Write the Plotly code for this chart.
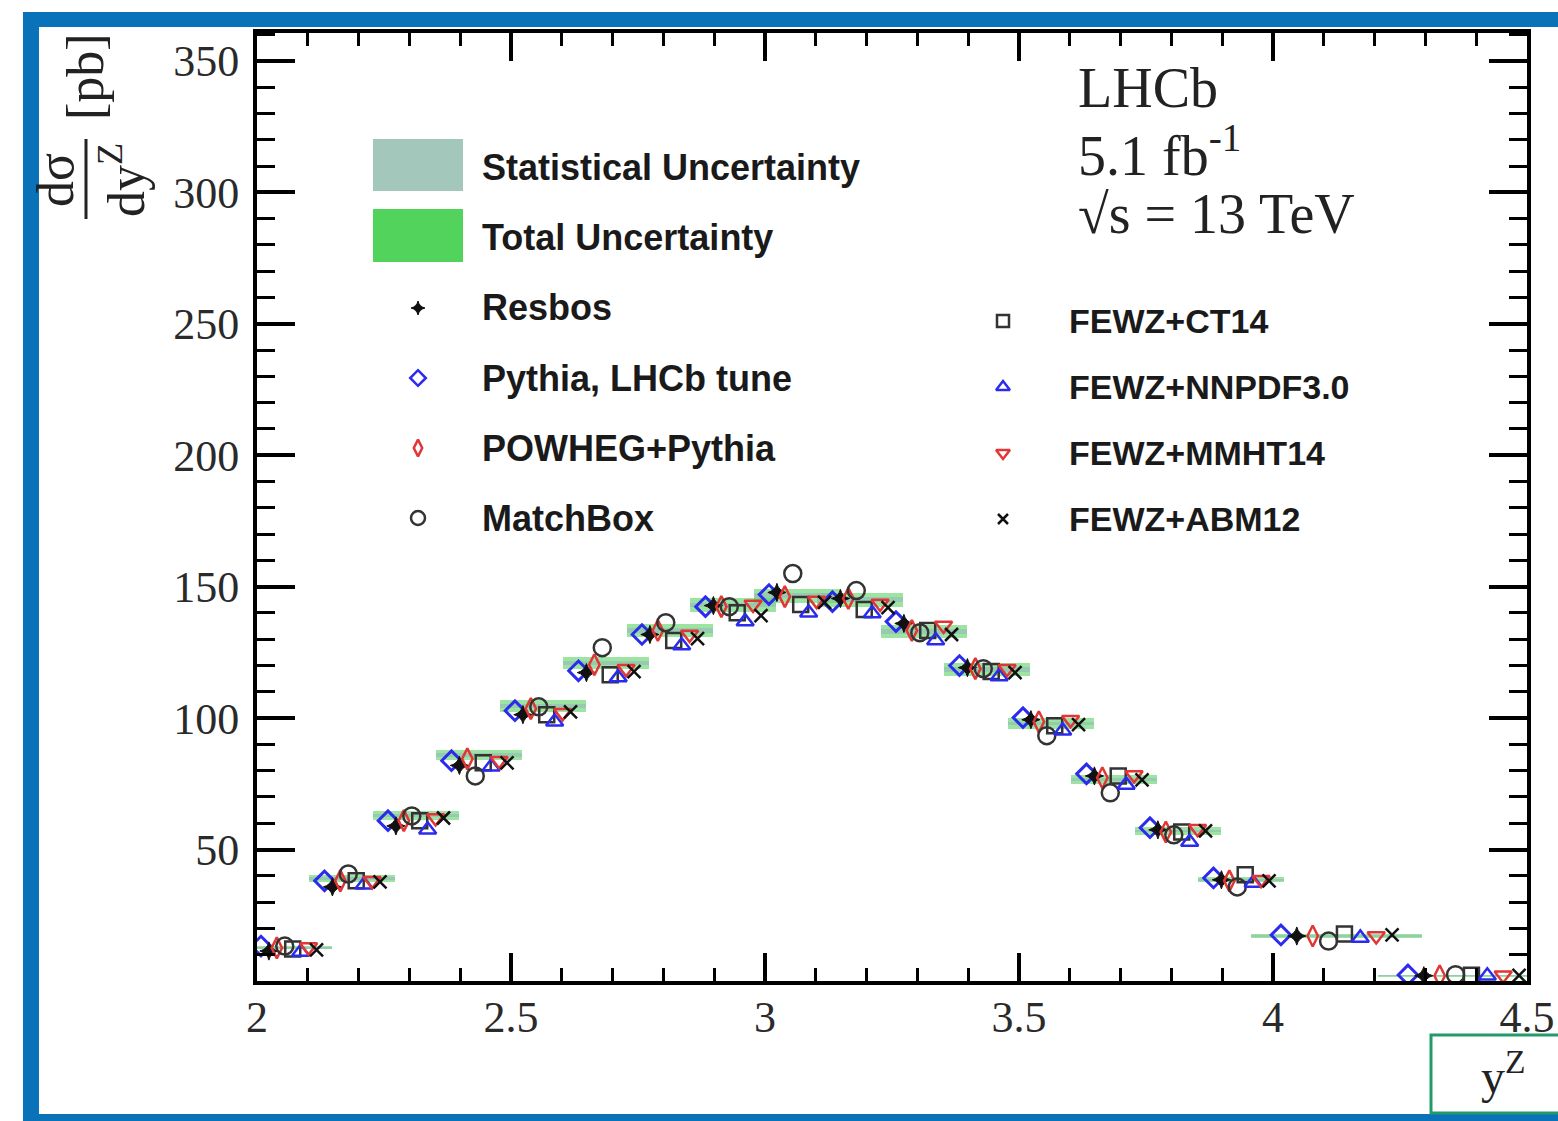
import plotly.graph_objects as go

# ------------------------------------------------------------------ data
bin_edges = [2.0, 2.125, 2.25, 2.375, 2.5, 2.625, 2.75, 2.875, 3.0, 3.125,
             3.25, 3.375, 3.5, 3.625, 3.75, 3.875, 4.0, 4.25, 4.5]
data_val = [12.6, 39.0, 63.0, 86.0, 104.5, 121.0, 133.3, 143.0, 146.5, 145.0,
            133.0, 118.5, 98.0, 76.5, 57.0, 38.5, 17.1, 2.0]
total_err = [0.6, 1.2, 1.6, 2.0, 2.2, 2.4, 2.5, 2.6, 2.6, 2.6,
             2.5, 2.3, 2.0, 1.7, 1.4, 1.0, 0.6, 0.3]
stat_err = [0.3, 0.5, 0.6, 0.7, 0.8, 0.8, 0.9, 0.9, 0.9, 0.9,
            0.9, 0.8, 0.7, 0.6, 0.5, 0.4, 0.3, 0.1]

pythia = [13.3, 38.1, 61.0, 83.8, 102.8, 118.0, 131.8, 142.4, 147.0, 144.3,
          136.7, 120.0, 100.2, 78.8, 58.3, 39.2, 17.5, 2.3]
resbos = [11.4, 35.8, 59.0, 82.0, 101.3, 117.3, 131.8, 142.8, 147.8, 145.5,
          136.0, 119.2, 99.4, 78.0, 57.5, 38.5, 17.1, 2.0]
powheg = [12.6, 38.1, 61.0, 84.5, 103.6, 120.3, 133.3, 142.4, 146.2, 145.5,
          133.3, 118.8, 98.6, 77.3, 56.7, 38.1, 17.1, 2.0]
matchbox = [13.3, 40.7, 62.8, 78.0, 104.3, 126.8, 136.3, 142.4, 155.0, 148.5,
            132.5, 118.8, 93.3, 71.6, 55.6, 35.8, 15.2, 2.4]
fewz_ct14 = [12.2, 38.1, 61.0, 83.0, 101.3, 116.5, 129.5, 140.1, 143.2, 141.3,
             133.3, 117.7, 97.1, 78.0, 56.7, 40.4, 17.9, 2.2]
fewz_nnpdf30 = [11.0, 36.6, 57.5, 81.5, 98.6, 115.4, 127.6, 136.7, 140.1, 139.8,
                129.5, 115.8, 95.2, 74.6, 52.9, 37.3, 16.4, 2.0]
fewz_mmht14 = [12.9, 38.1, 62.0, 83.8, 102.0, 118.8, 131.8, 143.2, 144.7, 143.6,
               135.2, 118.8, 99.4, 78.4, 57.9, 38.5, 17.1, 2.2]
fewz_abm12 = [11.8, 37.7, 62.0, 83.0, 102.4, 117.7, 130.2, 139.0, 144.0, 142.0,
              131.8, 117.3, 97.5, 76.5, 57.1, 38.1, 17.5, 2.1]

x_tick_vals = [2, 2.5, 3, 3.5, 4, 4.5]
x_tick_text = ["2", "2.5", "3", "3.5", "4", "4.5"]
y_tick_vals = [0, 50, 100, 150, 200, 250, 300, 350]
y_tick_text = ["", "50", "100", "150", "200", "250", "300", "350"]

# ------------------------------------------------------------------ geometry helpers (figure pixels -> paper)
W, H = 1558, 1121
PL, PR, PT, PB = 257, 1527, 33, 981


def fx(px):
    return (px - PL) / (PR - PL)


def fy(py):
    return (PB - py) / (PB - PT)


lows = bin_edges[:-1]
highs = bin_edges[1:]
bw = [h - l for l, h in zip(lows, highs)]
centers = [(l + h) / 2 for l, h in zip(lows, highs)]

BLUE = "#2b2bee"
RED = "#e23535"
BLACK = "#111111"
GREY = "#333333"

series = [
    ("Pythia, LHCb tune", pythia, "diamond-open", BLUE, 15, 3),
    ("Resbos", resbos, "star-diamond", BLACK, 13, 1),
    ("POWHEG+Pythia", powheg, "diamond-tall-open", RED, 15, 2.5),
    ("MatchBox", matchbox, "circle-open", GREY, 17, 2.5),
    ("FEWZ+CT14", fewz_ct14, "square-open", GREY, 15, 2.5),
    ("FEWZ+NNPDF3.0", fewz_nnpdf30, "triangle-up-open", BLUE, 15, 2.5),
    ("FEWZ+MMHT14", fewz_mmht14, "triangle-down-open", RED, 15, 2.5),
    ("FEWZ+ABM12", fewz_abm12, "x-thin-open", BLACK, 13, 2.5),
]

fig = go.Figure()

# uncertainty bands
fig.add_trace(go.Bar(
    x=centers, y=[2 * e for e in total_err], base=[v - e for v, e in zip(data_val, total_err)],
    width=[1.35 * b for b in bw], marker=dict(color="rgba(90,210,100,0.6)", line=dict(width=0)),
    showlegend=False, hoverinfo="skip"))
fig.add_trace(go.Bar(
    x=centers, y=[2 * e for e in stat_err], base=[v - e for v, e in zip(data_val, stat_err)],
    width=[1.35 * b for b in bw], marker=dict(color="rgba(150,195,180,0.8)", line=dict(width=0)),
    showlegend=False, hoverinfo="skip"))

# predictions, offset inside each bin
n = len(series)
for i, (name, vals, sym, col, size, lw) in enumerate(series):
    xs = [l + b * (i + 0.5) / n for l, b in zip(lows, bw)]
    fig.add_trace(go.Scatter(
        x=xs, y=vals, mode="markers", name=name, showlegend=False,
        marker=dict(symbol=sym, color=col, size=size, line=dict(color=col, width=lw)),
        cliponaxis=True))

# ------------------------------------------------------------------ manual legend
legend_left = [("Resbos", 308), ("Pythia, LHCb tune", 378), ("POWHEG+Pythia", 448), ("MatchBox", 518)]
legend_right = [("FEWZ+CT14", 321), ("FEWZ+NNPDF3.0", 387), ("FEWZ+MMHT14", 453), ("FEWZ+ABM12", 519)]
style = {s[0]: s for s in series}
sans = "Liberation Sans, Arial, sans-serif"
left_font = dict(family=sans, size=36, color="#1a1a1a", weight="bold")
right_font = dict(family=sans, size=34, color="#1a1a1a", weight="bold")

annotations = []
for items, mx, tx, lf in ((legend_left, 418, 480, left_font), (legend_right, 1003, 1067, right_font)):
    for name, py in items:
        _, _, sym, col, size, lw = style[name]
        fig.add_trace(go.Scatter(
            x=[fx(mx)], y=[fy(py)], xaxis="x2", yaxis="y2", mode="markers", showlegend=False,
            marker=dict(symbol=sym, color=col, size=size - 3, line=dict(color=col, width=min(lw, 2.5))),
            cliponaxis=False, hoverinfo="skip"))
        annotations.append(dict(xref="paper", yref="paper", x=fx(tx), y=fy(py), text=name,
                                showarrow=False, xanchor="left", yanchor="middle", font=lf))

for label, py in (("Statistical Uncertainty", 167), ("Total Uncertainty", 237)):
    annotations.append(dict(xref="paper", yref="paper", x=fx(480), y=fy(py), text=label,
                            showarrow=False, xanchor="left", yanchor="middle", font=left_font))

shapes = [
    dict(type="rect", xref="paper", yref="paper", x0=fx(373), x1=fx(463), y0=fy(191), y1=fy(139),
         fillcolor="#a3c8bb", line=dict(width=0)),
    dict(type="rect", xref="paper", yref="paper", x0=fx(373), x1=fx(463), y0=fy(262), y1=fy(209),
         fillcolor="#52d35c", line=dict(width=0)),
]

# LHCb label
serif = "Liberation Serif, Times New Roman, serif"
for txt, py in (("LHCb", 88), ("5.1 fb<sup>-1</sup>", 151), ("√s = 13 TeV", 214)):
    annotations.append(dict(xref="paper", yref="paper", x=fx(1076), y=fy(py), text=txt,
                            showarrow=False, xanchor="left", yanchor="middle",
                            font=dict(family=serif, size=56, color="#222222")))

# y axis title as a rotated fraction
title_font = dict(family=serif, size=52, color="#222222")
annotations += [
    dict(xref="paper", yref="paper", x=fx(55), y=fy(180), text="dσ", textangle=-90,
         showarrow=False, xanchor="center", yanchor="middle", font=title_font),
    dict(xref="paper", yref="paper", x=fx(122), y=fy(180), text="dy<sup>Z</sup>", textangle=-90,
         showarrow=False, xanchor="center", yanchor="middle", font=title_font),
    dict(xref="paper", yref="paper", x=fx(86), y=fy(77), text="[pb]", textangle=-90,
         showarrow=False, xanchor="center", yanchor="middle", font=title_font),
    dict(xref="paper", yref="paper", x=fx(1503), y=fy(1073), text="y<sup>Z</sup>",
         showarrow=False, xanchor="center", yanchor="middle",
         font=dict(family=serif, size=48, color="#222222")),
]
shapes.append(dict(type="line", xref="paper", yref="paper", x0=fx(86), x1=fx(86), y0=fy(139), y1=fy(219),
                   line=dict(color="#222222", width=3)))

# blue frame and green box
FRAME = "#0a72b9"
shapes += [
    dict(type="rect", xref="paper", yref="paper", x0=fx(23), x1=fx(39), y0=fy(12), y1=fy(1125),
         fillcolor=FRAME, line=dict(width=0), layer="above"),
    dict(type="rect", xref="paper", yref="paper", x0=fx(23), x1=fx(1562), y0=fy(12), y1=fy(27),
         fillcolor=FRAME, line=dict(width=0), layer="above"),
    dict(type="rect", xref="paper", yref="paper", x0=fx(23), x1=fx(1562), y0=fy(1114), y1=fy(1125),
         fillcolor=FRAME, line=dict(width=0), layer="above"),
    dict(type="rect", xref="paper", yref="paper", x0=fx(1431), x1=fx(1575), y0=fy(1035), y1=fy(1113),
         fillcolor="rgba(0,0,0,0)", line=dict(color="#249a6c", width=3), layer="above"),
]

tick_font = dict(family=serif, size=44, color="#2a2a2a")
fig.update_layout(
    width=W, height=H,
    autosize=False,
    margin=dict(l=PL, r=W - PR, t=PT, b=H - PB, pad=0, autoexpand=False),
    paper_bgcolor="white", plot_bgcolor="white",
    barmode="overlay", bargap=0,
    showlegend=False,
    xaxis=dict(range=[2, 4.5], tickmode="array", tickvals=x_tick_vals, ticktext=x_tick_text,
               ticks="inside", ticklen=28, tickwidth=3.5, tickcolor="black", automargin=False,
               showline=True, linecolor="black", linewidth=4, mirror="ticks",
               showgrid=False, zeroline=False, tickfont=tick_font, ticklabelstandoff=-6,
               minor=dict(tickmode="linear", tick0=2, dtick=0.1, ticks="inside", ticklen=13,
                          tickwidth=3, tickcolor="black", showgrid=False)),
    yaxis=dict(range=[0, 360.6], tickmode="array", tickvals=y_tick_vals, ticktext=y_tick_text,
               ticks="inside", ticklen=38, tickwidth=3.5, tickcolor="black", automargin=False,
               showline=True, linecolor="black", linewidth=4, mirror="ticks",
               showgrid=False, zeroline=False, tickfont=tick_font, ticklabelstandoff=5,
               minor=dict(tickmode="linear", tick0=0, dtick=10, ticks="inside", ticklen=18,
                          tickwidth=3, tickcolor="black", showgrid=False)),
    xaxis2=dict(domain=[0, 1], range=[0, 1], visible=False, overlaying="x", anchor="y2"),
    yaxis2=dict(domain=[0, 1], range=[0, 1], visible=False, overlaying="y", anchor="x2"),
    annotations=annotations,
    shapes=shapes,
)

fig.write_html("out.html", config={"displayModeBar": False, "responsive": False},
               post_script="document.body.style.margin='0px';document.body.style.overflow='hidden';")
